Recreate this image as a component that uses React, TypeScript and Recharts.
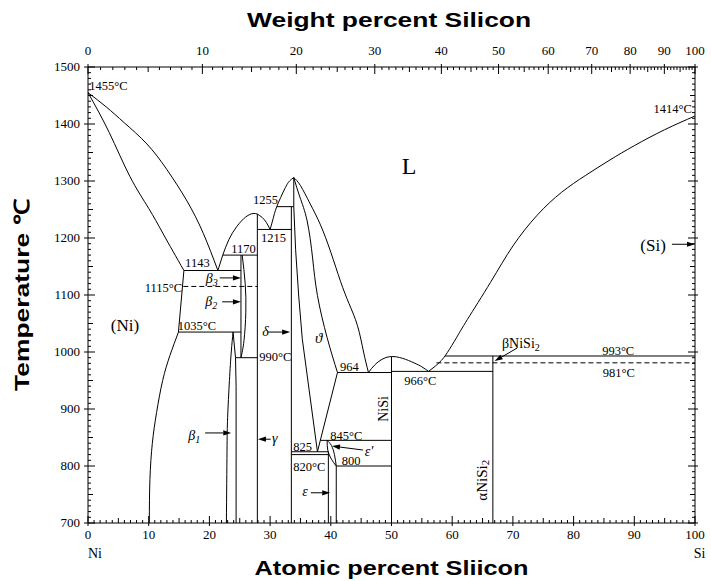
import React from 'react';
import { ComposedChart, Line, XAxis, YAxis, ReferenceDot, ReferenceLine } from 'recharts';

// phase boundaries, [atomic % Si, temperature °C]
const liqNi = [[0, 1455], [3, 1430], [6, 1402], [9.7, 1365], [13, 1320], [16.3, 1265], [19, 1208], [21.4, 1143]];
const solNi = [[0, 1455], [3.5, 1385], [6.9, 1308], [10, 1252], [12.4, 1207], [15.8, 1143]];
const solvNiTop = [[15.8, 1143], [14.9, 1035]];
const solvNi = [[14.9, 1035], [13.5, 994], [12.3, 950], [11.3, 894], [10.6, 840], [10.2, 776], [10.1, 700]];
const liqBeta3 = [[21.4, 1143], [22.2, 1170]];
const liqGammaL = [[22.2, 1170], [23.2, 1197], [24.5, 1220], [26, 1237], [27.2, 1243], [27.9, 1242]];
const liqGammaR = [[27.9, 1242], [28.7, 1236], [29.4, 1227], [30, 1215]];
const liqDelta = [[30, 1215], [30.5, 1234], [31.1, 1255], [32.4, 1286], [33.2, 1300], [33.9, 1306]];
const liqTheta = [[33.9, 1306], [35, 1292], [36.6, 1260], [38.3, 1223], [40, 1175], [41.6, 1124], [43, 1085], [44.4, 1046], [45.4, 1000], [46.2, 964]];
const thetaLeft = [[33.9, 1306], [33.9, 1255], [34.2, 1180], [34.7, 1100], [35.3, 1023], [37.8, 825]];
const thetaRight = [[33.9, 1306], [34.9, 1272], [36.1, 1230], [37, 1165], [37.8, 1099], [39.4, 1025], [41.1, 964]];
const thetaLow = [[41.1, 964], [37.8, 825]];
const liqNiSi = [[46.2, 964], [47.3, 978], [48.6, 988], [50, 992], [51.8, 989], [53.7, 981], [55, 974], [56.1, 966]];
const liqSi = [[56.1, 966], [57.2, 975], [58.2, 985], [59.2, 999], [60.7, 1025], [62.5, 1057], [66.3, 1122], [70, 1186], [74, 1240], [78, 1280], [82, 1310], [86, 1337], [90, 1362], [95, 1390], [100, 1414]];
const lensBeta = [[25.4, 1170], [25.9, 1120], [26, 1070], [25.7, 1020], [25.2, 990]];
const beta1Left = [[23.9, 1035], [23.6, 1000], [23.3, 950], [23, 885], [22.9, 825], [22.8, 700]];
const beta1Right = [[23.9, 1035], [24.3, 990], [24.4, 940], [24.4, 700]];
const epsPrimeL = [[39.4, 845], [39.5, 828], [40.1, 812], [40.9, 800]];
const epsPrimeR = [[39.4, 845], [40.1, 836], [40.6, 820], [40.9, 800]];

// invariant lines
const h1143 = [[15.8, 1143], [25.2, 1143]];
const h1035 = [[14.9, 1035], [25.2, 1035]];
const h1170 = [[22.2, 1170], [27.9, 1170]];
const h990 = [[24.3, 990], [27.9, 990]];
const h1215 = [[27.9, 1215], [33.5, 1215]];
const h1255 = [[31.1, 1255], [33.9, 1255]];
const h964 = [[41.1, 964], [50, 964]];
const h966 = [[50, 966], [66.7, 966]];
const h993 = [[58.8, 993], [100, 993]];
const h845 = [[38.3, 845], [50, 845]];
const h825 = [[33.5, 825], [39.6, 825]];
const h820 = [[33.5, 820], [39.6, 820]];
const h800 = [[40.9, 800], [50, 800]];
const h1115 = [[15.7, 1115], [27.9, 1115]];
const h981 = [[57.4, 981], [100, 981]];

// compounds
const vBeta = [[25.2, 1170], [25.2, 990]];
const vGamma = [[27.9, 1242], [27.9, 700]];
const vDelta = [[33.5, 1255], [33.5, 700]];
const vEps = [[39.6, 825], [39.6, 700]];
const vEps2 = [[40.9, 800], [40.9, 700]];
const vNiSi = [[50, 992], [50, 700]];
const vNiSi2 = [[66.7, 993], [66.7, 700]];

const curved = [liqNi, solNi, solvNi, liqGammaL, liqGammaR, liqDelta, liqTheta, thetaRight, liqNiSi, liqSi, lensBeta, beta1Left, epsPrimeL, epsPrimeR];
const straight = [solvNiTop, liqBeta3, thetaLeft, thetaLow, beta1Right, h1143, h1035, h1170, h990, h1215, h1255, h964, h966, h993, h845, h825, h820, h800, vBeta, vGamma, vDelta, vEps, vEps2, vNiSi, vNiSi2];
const dashed = [h1115, h981];

// axes
const atTicks = Array.from({ length: 101 }, (_, i) => i);
const wtTicks = Array.from({ length: 101 }, (_, i) => i);
const tempTicks = Array.from({ length: 81 }, (_, i) => 700 + i * 10);
const wtToAt = (w: number) => {
  const si = w / 28.0855;
  const ni = (100 - w) / 58.6934;
  return si + ni === 0 ? 0 : (100 * si) / (si + ni);
};
const topTicks = wtTicks.map(wtToAt);

type Mark = { a: number; t: number; text: string; sub?: string; anchor?: string; size?: number; italic?: boolean; bold?: boolean; rotate?: number; sans?: boolean; len?: number };

const marks: Mark[] = [
  { a: 0.2, t: 1460, text: '1455°C' },
  { a: 99.5, t: 1420, text: '1414°C', anchor: 'end' },
  { a: 52.9, t: 1312, text: 'L', anchor: 'middle', size: 24 },
  { a: 93.1, t: 1177, text: '(Si)', anchor: 'middle', size: 17 },
  { a: 6.1, t: 1037, text: '(Ni)', anchor: 'middle', size: 17 },
  { a: 16.0, t: 1150, text: '1143' },
  { a: 23.6, t: 1174, text: '1170' },
  { a: 27.2, t: 1260, text: '1255' },
  { a: 28.5, t: 1193, text: '1215' },
  { a: 15.5, t: 1105, text: '1115°C', anchor: 'end' },
  { a: 19.4, t: 1121, text: 'β', sub: '3', italic: true, size: 14 },
  { a: 19.3, t: 1080, text: 'β', sub: '2', italic: true, size: 14 },
  { a: 14.8, t: 1039, text: '1035°C' },
  { a: 28.7, t: 1028, text: 'δ', italic: true, size: 14 },
  { a: 37.4, t: 1016, text: 'ϑ', italic: true, size: 15 },
  { a: 28.2, t: 984, text: '990°C' },
  { a: 41.5, t: 967, text: '964' },
  { a: 52.1, t: 942, text: '966°C' },
  { a: 48.6, t: 900, text: 'NiSi', anchor: 'middle', size: 14, rotate: -90 },
  { a: 39.9, t: 846, text: '845°C' },
  { a: 33.8, t: 826, text: '825' },
  { a: 33.8, t: 791, text: '820°C' },
  { a: 41.8, t: 802, text: '800' },
  { a: 45.6, t: 818, text: "ε'", italic: true, size: 14 },
  { a: 35.3, t: 747, text: 'ε', italic: true, size: 14 },
  { a: 30.3, t: 840, text: 'γ', italic: true, size: 14 },
  { a: 16.5, t: 846, text: 'β', sub: '1', italic: true, size: 14 },
  { a: 68.2, t: 1007, text: 'βNiSi', sub: '2', size: 14 },
  { a: 84.7, t: 995, text: '993°C' },
  { a: 84.8, t: 956, text: '981°C' },
  { a: 64.9, t: 775, text: 'αNiSi', sub: '2', anchor: 'middle', size: 15, rotate: -90 },
  { a: 0, t: 639, text: 'Ni', size: 14 },
  { a: 99.8, t: 639, text: 'Si', size: 14 },
  { a: 49.6, t: 1570, text: 'Weight percent Silicon', anchor: 'middle', size: 21, bold: true, sans: true, len: 284 },
  { a: 50, t: 609, text: 'Atomic percent Sliicon', anchor: 'middle', size: 21, bold: true, sans: true, len: 274 },
  { a: -11, t: 1100, text: 'Temperature ℃', anchor: 'middle', size: 21, bold: true, sans: true, rotate: -90, len: 192 },
];

// [from a, from t, to a, to t]
const arrows = [
  [96.2, 1189, 100, 1189],
  [21.7, 1130, 25.2, 1130],
  [22.1, 1088, 25.2, 1088],
  [29.7, 1035, 33.3, 1035],
  [45.3, 828, 40.2, 835],
  [36.7, 753, 39.9, 753],
  [30.1, 847, 28.0, 847],
  [19.3, 858, 23.6, 858],
  [70.7, 1007, 67.0, 984],
];

const SERIF = '"Liberation Serif", "Times New Roman", serif';
const SANS = '"Liberation Sans", Arial, sans-serif';

const toPts = (arr: number[][]) => arr.map(([a, t]) => ({ a, t }));

function BottomTick(props: any) {
  const { x, y, payload } = props;
  const v = payload.value;
  const major = v % 10 === 0;
  const len = major ? 7 : v % 5 === 0 ? 5 : 3;
  return (
    <g>
      <line x1={x} x2={x} y1={y + (major ? 3 : 0)} y2={y - len} stroke="#000" strokeWidth={1} />
      {major && (
        <text x={x} y={y + 16} textAnchor="middle" fontSize={13} fontFamily={SERIF} fill="#000">{v}</text>
      )}
    </g>
  );
}

function TopTick(props: any) {
  const { x, y, index } = props;
  const w = wtTicks[index];
  const major = w % 10 === 0;
  const len = major ? 7 : w % 5 === 0 ? 5 : 3;
  return (
    <g>
      <line x1={x} x2={x} y1={y - (major ? 3 : 0)} y2={y + len} stroke="#000" strokeWidth={1} />
      {major && (
        <text x={x} y={y - 12} textAnchor="middle" fontSize={13} fontFamily={SERIF} fill="#000">{w}</text>
      )}
    </g>
  );
}

function LeftTick(props: any) {
  const { x, y, payload } = props;
  const v = payload.value;
  const major = v % 100 === 0;
  const len = major ? 7 : v % 50 === 0 ? 5 : 3;
  return (
    <g>
      <line x1={x - (major ? 4 : 0)} x2={x + len} y1={y} y2={y} stroke="#000" strokeWidth={1} />
      {major && (
        <text x={x - 8} y={y + 4} textAnchor="end" fontSize={13} fontFamily={SERIF} fill="#000">{v}</text>
      )}
    </g>
  );
}

function RightTick(props: any) {
  const { x, y, payload } = props;
  const v = payload.value;
  const major = v % 100 === 0;
  const len = major ? 7 : v % 50 === 0 ? 5 : 3;
  return <line x1={x - len} x2={x + (major ? 3 : 0)} y1={y} y2={y} stroke="#000" strokeWidth={1} />;
}

function MarkText({ cx, cy, m }: { cx: number; cy: number; m: Mark }) {
  const size = m.size || 12.5;
  return (
    <text
      x={cx}
      y={cy}
      textAnchor={m.anchor || 'start'}
      dominantBaseline={m.rotate ? 'central' : undefined}
      transform={m.rotate ? `rotate(${m.rotate} ${cx} ${cy})` : undefined}
      fontSize={size}
      fontFamily={m.sans ? SANS : SERIF}
      fontStyle={m.italic ? 'italic' : 'normal'}
      fontWeight={m.bold ? 'bold' : 'normal'}
      textLength={m.len}
      lengthAdjust={m.len ? 'spacingAndGlyphs' : undefined}
      fill="#000"
    >
      {m.text}
      {m.sub && (
        <tspan fontSize={size * 0.72} dy={3}>{m.sub}</tspan>
      )}
    </text>
  );
}

function Arrow(props: any) {
  const { x1, y1, x2, y2 } = props;
  const dx = x2 - x1;
  const dy = y2 - y1;
  const L = Math.hypot(dx, dy) || 1;
  const ux = dx / L;
  const uy = dy / L;
  const bx = x2 - ux * 8;
  const by = y2 - uy * 8;
  const hw = 2.6;
  return (
    <g>
      <line x1={x1} y1={y1} x2={bx} y2={by} stroke="#000" strokeWidth={1} />
      <polygon points={`${x2},${y2} ${bx - uy * hw},${by + ux * hw} ${bx + uy * hw},${by - ux * hw}`} fill="#000" />
    </g>
  );
}

export default function App() {
  return (
    <div style={{ position: 'absolute', left: 0, top: 0, width: 711, height: 581, background: '#fff' }}>
      <ComposedChart width={711} height={581} margin={{ top: 37, right: 0, bottom: 28, left: 28 }}>
        <XAxis
          xAxisId="b"
          dataKey="a"
          type="number"
          domain={[0, 100]}
          ticks={atTicks}
          interval={0}
          height={30}
          tickSize={0}
          tickMargin={0}
          tickLine={false}
          axisLine={{ stroke: '#000' }}
          tick={(p: any) => <BottomTick {...p} />}
          allowDataOverflow
        />
        <XAxis
          xAxisId="t"
          orientation="top"
          dataKey="a"
          type="number"
          domain={[0, 100]}
          ticks={topTicks}
          interval={0}
          height={30}
          tickSize={0}
          tickMargin={0}
          tickLine={false}
          axisLine={{ stroke: '#000' }}
          tick={(p: any) => <TopTick {...p} />}
          allowDataOverflow
        />
        <YAxis
          yAxisId="l"
          type="number"
          domain={[700, 1500]}
          ticks={tempTicks}
          interval={0}
          width={60}
          tickSize={0}
          tickMargin={0}
          tickLine={false}
          axisLine={{ stroke: '#000' }}
          tick={(p: any) => <LeftTick {...p} />}
          allowDataOverflow
        />
        <YAxis
          yAxisId="r"
          orientation="right"
          type="number"
          domain={[700, 1500]}
          ticks={tempTicks}
          interval={0}
          width={16}
          tickSize={0}
          tickMargin={0}
          tickLine={false}
          axisLine={{ stroke: '#000' }}
          tick={(p: any) => <RightTick {...p} />}
          allowDataOverflow
        />
        {curved.map((d, i) => (
          <Line key={`c${i}`} xAxisId="b" yAxisId="l" data={toPts(d)} dataKey="t" type="natural" stroke="#000" strokeWidth={1} dot={false} activeDot={false} isAnimationActive={false} />
        ))}
        {straight.map((d, i) => (
          <Line key={`s${i}`} xAxisId="b" yAxisId="l" data={toPts(d)} dataKey="t" type="linear" stroke="#000" strokeWidth={1} dot={false} activeDot={false} isAnimationActive={false} />
        ))}
        {dashed.map((d, i) => (
          <Line key={`d${i}`} xAxisId="b" yAxisId="l" data={toPts(d)} dataKey="t" type="linear" stroke="#000" strokeWidth={1} strokeDasharray="5 3" dot={false} activeDot={false} isAnimationActive={false} />
        ))}
        {arrows.map(([a1, t1, a2, t2], i) => (
          <ReferenceLine
            key={`ar${i}`}
            xAxisId="b"
            yAxisId="l"
            ifOverflow="visible"
            segment={[{ x: a1, y: t1 }, { x: a2, y: t2 }]}
            shape={(p: any) => <Arrow {...p} />}
          />
        ))}
        {marks.map((m, i) => (
          <ReferenceDot
            key={`m${i}`}
            xAxisId="b"
            yAxisId="l"
            x={m.a}
            y={m.t}
            r={0}
            ifOverflow="visible"
            shape={(p: any) => <MarkText cx={p.cx} cy={p.cy} m={m} />}
          />
        ))}
      </ComposedChart>
    </div>
  );
}
